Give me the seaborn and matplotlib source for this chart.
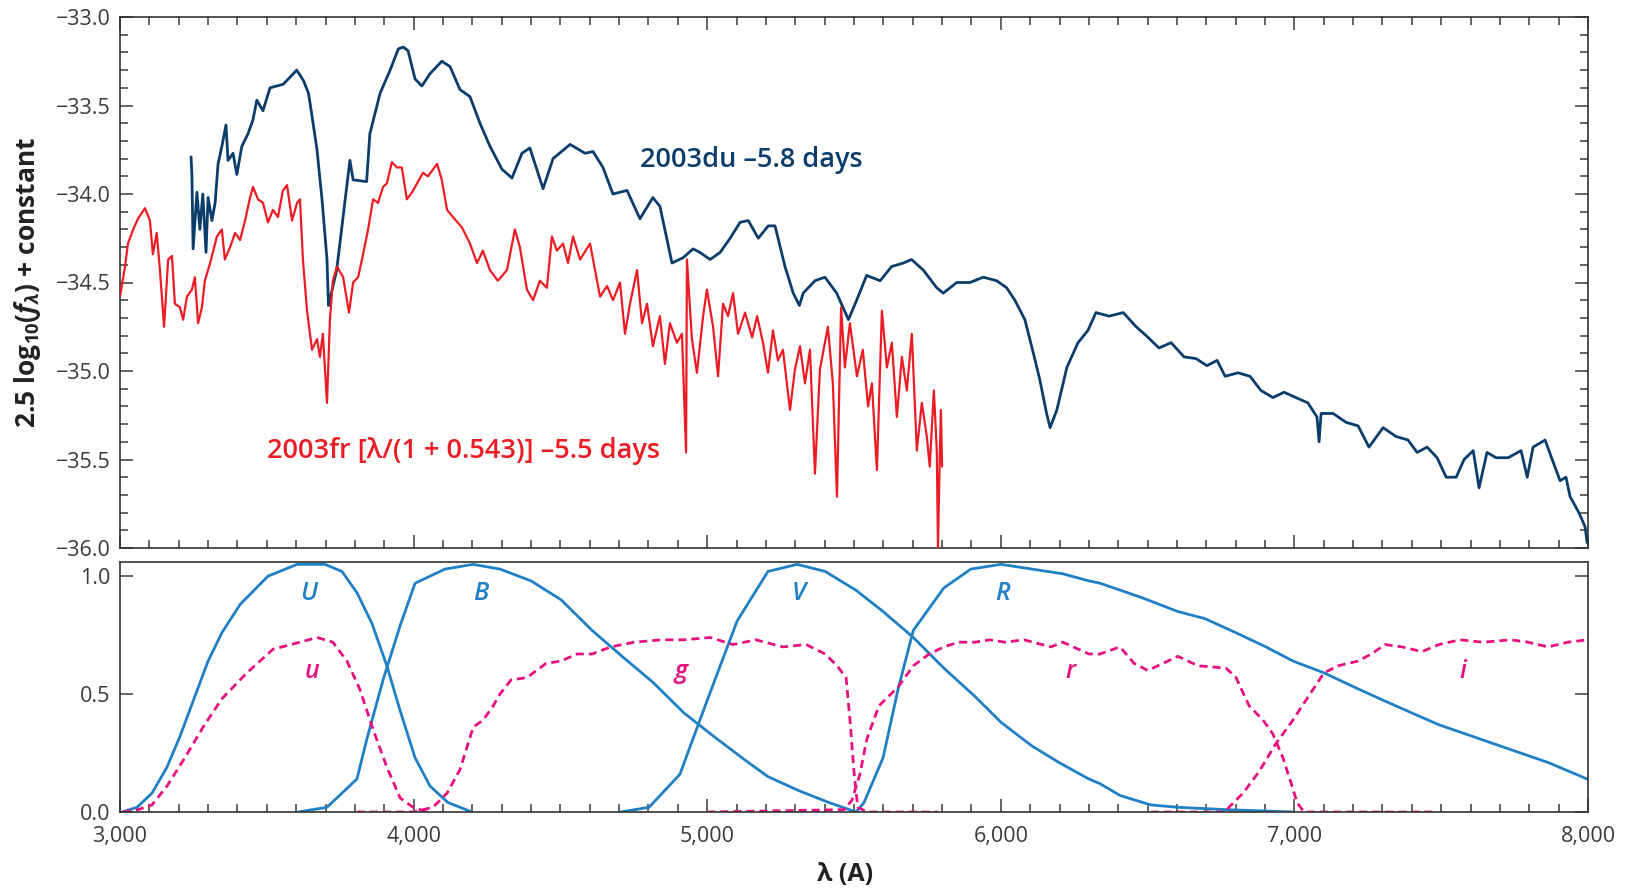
import numpy as np
import pandas as pd
import matplotlib
matplotlib.use("Agg")
import matplotlib.pyplot as plt
import seaborn as sns
from matplotlib.ticker import MultipleLocator, FixedLocator, FuncFormatter

# ---------------- data ----------------
du_wave = [3242, 3245, 3249, 3262, 3272, 3282, 3293, 3300, 3313, 3324, 3334, 3347, 3361, 3368, 3385,
           3398, 3415, 3436, 3453, 3466, 3487, 3511, 3556, 3602, 3625, 3642, 3654, 3671, 3688, 3705,
           3710, 3738, 3783, 3794, 3840, 3851, 3886, 3920, 3948, 3965, 3981, 4005, 4028, 4056, 4096,
           4124, 4158, 4192, 4226, 4260, 4301, 4335, 4369, 4396, 4441, 4475, 4533, 4584, 4611, 4645,
           4679, 4727, 4771, 4815, 4839, 4880, 4918, 4952, 4975, 5010, 5044, 5078, 5112, 5140, 5174,
           5208, 5231, 5265, 5293, 5314, 5327, 5367, 5401, 5441, 5481, 5509, 5543, 5589, 5628, 5668,
           5696, 5736, 5782, 5804, 5850, 5895, 5940, 5986, 6020, 6048, 6082, 6111, 6133, 6156, 6168,
           6191, 6225, 6263, 6297, 6324, 6369, 6417, 6461, 6495, 6539, 6580, 6624, 6665, 6702, 6737,
           6764, 6808, 6849, 6886, 6927, 6965, 7005, 7046, 7077, 7084, 7091, 7132, 7176, 7217, 7254,
           7302, 7346, 7387, 7418, 7452, 7486, 7517, 7551, 7578, 7609, 7629, 7656, 7687, 7728, 7772,
           7793, 7813, 7854, 7878, 7905, 7925, 7939, 7969, 7990, 7997]
du_mag = [-33.79, -33.90, -34.31, -33.99, -34.20, -34.00, -34.33, -34.02, -34.15, -34.05, -33.83, -33.73,
          -33.61, -33.81, -33.77, -33.89, -33.73, -33.66, -33.58, -33.47, -33.53, -33.40, -33.38, -33.30,
          -33.36, -33.43, -33.56, -33.75, -34.03, -34.37, -34.63, -34.43, -33.81, -33.92, -33.93, -33.66,
          -33.43, -33.30, -33.18, -33.17, -33.19, -33.35, -33.39, -33.32, -33.25, -33.28, -33.41, -33.45,
          -33.60, -33.73, -33.86, -33.91, -33.77, -33.74, -33.97, -33.80, -33.72, -33.77, -33.76, -33.85,
          -34.00, -33.98, -34.14, -34.02, -34.07, -34.39, -34.36, -34.31, -34.33, -34.37, -34.33, -34.25,
          -34.16, -34.15, -34.25, -34.18, -34.18, -34.41, -34.56, -34.63, -34.56, -34.49, -34.47, -34.56,
          -34.71, -34.60, -34.46, -34.49, -34.41, -34.39, -34.37, -34.43, -34.53, -34.56, -34.50, -34.50,
          -34.47, -34.49, -34.53, -34.60, -34.71, -34.90, -35.05, -35.24, -35.32, -35.22, -34.98, -34.84,
          -34.77, -34.67, -34.69, -34.67, -34.75, -34.80, -34.87, -34.84, -34.92, -34.93, -34.97, -34.94,
          -35.03, -35.01, -35.03, -35.11, -35.15, -35.12, -35.15, -35.18, -35.26, -35.40, -35.24, -35.24,
          -35.29, -35.31, -35.43, -35.32, -35.37, -35.39, -35.46, -35.43, -35.49, -35.60, -35.60, -35.50,
          -35.45, -35.66, -35.46, -35.49, -35.49, -35.45, -35.60, -35.43, -35.39, -35.50, -35.62, -35.60,
          -35.71, -35.80, -35.88, -35.97]

fr_wave = [3000, 3017, 3027, 3045, 3061, 3085, 3102, 3112, 3125, 3136, 3150, 3164, 3177, 3187, 3204,
           3215, 3228, 3245, 3255, 3266, 3279, 3289, 3307, 3330, 3347, 3357, 3375, 3392, 3409, 3426,
           3443, 3453, 3470, 3487, 3504, 3521, 3538, 3555, 3569, 3586, 3603, 3613, 3623, 3637, 3654,
           3671, 3681, 3691, 3705, 3715, 3725, 3739, 3760, 3780, 3794, 3811, 3828, 3845, 3862, 3879,
           3896, 3909, 3926, 3943, 3960, 3977, 3995, 4012, 4032, 4049, 4080, 4096, 4114, 4134, 4165,
           4192, 4216, 4236, 4260, 4287, 4318, 4345, 4362, 4386, 4407, 4430, 4454, 4471, 4488, 4509,
           4526, 4543, 4567, 4601, 4618, 4635, 4659, 4679, 4703, 4720, 4737, 4761, 4778, 4795, 4815,
           4839, 4856, 4873, 4897, 4914, 4928, 4931, 4948, 4965, 4986, 4999, 5020, 5037, 5054, 5071,
           5088, 5105, 5129, 5153, 5170, 5190, 5207, 5224, 5241, 5258, 5282, 5299, 5316, 5333, 5350,
           5367, 5384, 5411, 5428, 5442, 5456, 5469, 5486, 5510, 5530, 5548, 5561, 5578, 5595, 5612,
           5629, 5646, 5663, 5680, 5697, 5714, 5731, 5748, 5758, 5772, 5782, 5786, 5792, 5796, 5800]
fr_mag = [-34.58, -34.41, -34.28, -34.20, -34.14, -34.08, -34.15, -34.34, -34.22, -34.43, -34.75, -34.37,
          -34.35, -34.62, -34.64, -34.71, -34.58, -34.54, -34.47, -34.73, -34.64, -34.49, -34.39, -34.24,
          -34.20, -34.37, -34.30, -34.22, -34.26, -34.15, -34.02, -33.96, -34.03, -34.05, -34.16, -34.09,
          -34.13, -33.98, -33.95, -34.15, -34.05, -34.03, -34.37, -34.66, -34.88, -34.82, -34.92, -34.79,
          -35.18, -34.71, -34.49, -34.41, -34.47, -34.67, -34.50, -34.47, -34.34, -34.20, -34.03, -34.05,
          -33.96, -33.94, -33.82, -33.85, -33.85, -34.03, -33.99, -33.94, -33.88, -33.90, -33.83, -33.92,
          -34.09, -34.13, -34.19, -34.28, -34.39, -34.32, -34.43, -34.49, -34.43, -34.20, -34.30, -34.54,
          -34.60, -34.49, -34.53, -34.24, -34.32, -34.28, -34.39, -34.24, -34.37, -34.28, -34.43, -34.58,
          -34.52, -34.60, -34.50, -34.79, -34.62, -34.43, -34.73, -34.62, -34.86, -34.69, -34.96, -34.73,
          -34.84, -34.79, -35.46, -34.37, -34.82, -35.01, -34.69, -34.54, -34.75, -35.03, -34.62, -34.69,
          -34.56, -34.79, -34.67, -34.81, -34.69, -34.84, -35.01, -34.77, -34.94, -34.88, -35.22, -34.99,
          -34.86, -35.07, -34.88, -35.58, -34.99, -34.75, -35.07, -35.71, -34.64, -34.98, -34.73, -35.03,
          -34.88, -35.20, -35.07, -35.56, -34.66, -34.98, -34.84, -35.26, -34.92, -35.11, -34.79, -35.45,
          -35.18, -35.37, -35.54, -35.11, -35.45, -36.00, -35.49, -35.22, -35.54]

# Bessell UBVR (solid) transmission curves
U_wave = [3007, 3058, 3109, 3160, 3204, 3249, 3300, 3347, 3409, 3504, 3603, 3698, 3756, 3807, 3858,
          3909, 3954, 4005, 4056, 4117, 4199]
U_trans = [0, 0.02, 0.08, 0.19, 0.32, 0.47, 0.64, 0.76, 0.88, 1.00, 1.05, 1.05, 1.02, 0.93, 0.80,
           0.62, 0.43, 0.23, 0.11, 0.04, 0]
B_wave = [3607, 3705, 3807, 3841, 3896, 3954, 4005, 4107, 4203, 4294, 4400, 4502, 4608, 4710, 4815,
          4921, 5023, 5129, 5207, 5313, 5415, 5507]
B_trans = [0, 0.02, 0.14, 0.31, 0.56, 0.79, 0.97, 1.03, 1.05, 1.03, 0.98, 0.90, 0.77, 0.66, 0.55,
           0.42, 0.32, 0.22, 0.15, 0.09, 0.04, 0]
V_wave = [4706, 4802, 4907, 4999, 5102, 5207, 5306, 5402, 5507, 5599, 5702, 5806, 5912, 6001, 6106,
          6198, 6300, 6338, 6406, 6511, 6603, 6767, 6995]
V_trans = [0, 0.02, 0.16, 0.47, 0.81, 1.02, 1.05, 1.02, 0.94, 0.85, 0.74, 0.61, 0.49, 0.38, 0.28,
           0.21, 0.14, 0.12, 0.07, 0.03, 0.02, 0.01, 0]
R_wave = [5507, 5534, 5599, 5650, 5702, 5806, 5898, 6001, 6106, 6211, 6300, 6338, 6478, 6603, 6695,
          6801, 6903, 6995, 7101, 7203, 7309, 7400, 7492, 7608, 7724, 7864, 7997]
R_trans = [0, 0.04, 0.23, 0.52, 0.77, 0.95, 1.03, 1.05, 1.03, 1.01, 0.98, 0.97, 0.91, 0.85, 0.82,
           0.76, 0.70, 0.64, 0.59, 0.53, 0.47, 0.42, 0.37, 0.32, 0.27, 0.21, 0.14]

# SDSS ugri (dashed) transmission curves
u_wave = [3010, 3061, 3109, 3160, 3221, 3283, 3347, 3432, 3521, 3613, 3671, 3725, 3773, 3817, 3862,
          3909, 3954, 3998, 4046]
u_trans = [0, 0.01, 0.03, 0.11, 0.23, 0.36, 0.48, 0.59, 0.69, 0.72, 0.74, 0.72, 0.64, 0.52, 0.35,
           0.19, 0.06, 0.02, 0]
g_wave = [3807, 4000, 4066, 4114, 4158, 4203, 4237, 4271, 4294, 4332, 4386, 4451, 4502, 4557, 4608,
          4672, 4751, 4843, 4921, 5010, 5088, 5166, 5258, 5337, 5402, 5442, 5473, 5487, 5500, 5513,
          5544, 5786]
g_trans = [0, 0, 0.02, 0.08, 0.18, 0.36, 0.39, 0.45, 0.50, 0.56, 0.57, 0.63, 0.64, 0.67, 0.67,
           0.70, 0.72, 0.73, 0.73, 0.74, 0.71, 0.73, 0.70, 0.71, 0.67, 0.62, 0.57, 0.38, 0.17, 0.02,
           0, 0]
r_wave = [5000, 5466, 5493, 5520, 5544, 5585, 5650, 5702, 5756, 5806, 5857, 5912, 5963, 6014, 6079,
          6171, 6211, 6300, 6338, 6406, 6454, 6501, 6603, 6672, 6767, 6801, 6846, 6893, 6927, 6961,
          6992, 7009, 7033, 7483]
r_trans = [0, 0.01, 0.05, 0.16, 0.31, 0.45, 0.53, 0.62, 0.67, 0.70, 0.72, 0.72, 0.73, 0.72, 0.73,
           0.70, 0.72, 0.67, 0.67, 0.70, 0.63, 0.60, 0.66, 0.62, 0.61, 0.57, 0.45, 0.39, 0.33, 0.23,
           0.11, 0.04, 0, 0]
i_wave = [6511, 6767, 6777, 6825, 6879, 6937, 6995, 7053, 7101, 7149, 7217, 7262, 7309, 7367, 7435,
          7492, 7564, 7642, 7738, 7796, 7864, 7932, 7997]
i_trans = [0, 0, 0.02, 0.08, 0.17, 0.29, 0.39, 0.50, 0.59, 0.62, 0.64, 0.67, 0.71, 0.70, 0.68,
           0.71, 0.73, 0.72, 0.73, 0.72, 0.70, 0.72, 0.73]

solid_labels = ["U", "B", "V", "R"]
solid_label_x = [3644, 4229, 5312, 6005]
dashed_labels = ["u", "g", "r", "i"]
dashed_label_x = [3654, 4911, 6239, 7574]

x_ticks = [3000, 4000, 5000, 6000, 7000, 8000]

# ---------------- style ----------------
sns.set_theme(style="ticks")
plt.rcParams['font.family'] = ['Open Sans', 'DejaVu Sans']
plt.rcParams['mathtext.fontset'] = 'custom'
plt.rcParams['mathtext.rm'] = 'Open Sans:bold'
plt.rcParams['mathtext.it'] = 'Open Sans:bold:italic'
plt.rcParams['mathtext.bf'] = 'Open Sans:bold'
plt.rcParams['axes.unicode_minus'] = True

C_DU = '#0b3d6b'
C_FR = '#ec1c24'
C_BLUE = '#1f80c6'
C_MAG = '#e6107f'
C_AX = '#3a3a3a'

fig = plt.figure(figsize=(16.32, 8.89), dpi=100)
fig.patch.set_facecolor('white')
ax1 = fig.add_axes([120 / 1632, 1 - 548 / 889, 1468 / 1632, 531 / 889])
ax2 = fig.add_axes([120 / 1632, 1 - 812 / 889, 1468 / 1632, 250 / 889])

# ---------------- top panel: spectra ----------------
df_du = pd.DataFrame({"wave": du_wave, "mag": du_mag})
df_fr = pd.DataFrame({"wave": fr_wave, "mag": fr_mag})
sns.lineplot(data=df_du, x="wave", y="mag", ax=ax1, color=C_DU, lw=2.0,
             estimator=None, sort=False, zorder=2)
sns.lineplot(data=df_fr, x="wave", y="mag", ax=ax1, color=C_FR, lw=1.6,
             estimator=None, sort=False, zorder=3)

ax1.set_xlim(3000, 8000)
ax1.set_ylim(-36.0, -33.0)
ax1.xaxis.set_major_locator(MultipleLocator(1000))
ax1.xaxis.set_minor_locator(MultipleLocator(100))
ax1.yaxis.set_major_locator(MultipleLocator(0.5))
ax1.yaxis.set_minor_locator(MultipleLocator(0.1))
ax1.yaxis.set_major_formatter(FuncFormatter(lambda v, p: f"{v:.1f}".replace('-', '\u2212')))
ax1.tick_params(which='both', direction='in', top=True, right=True, bottom=True, left=True,
                labelbottom=False, colors=C_AX, labelsize=15.5, pad=7)
ax1.tick_params(which='major', length=9.5, width=1.1)
ax1.tick_params(which='minor', length=5.5, width=1.1)
ax1.set_xlabel("")
ax1.set_ylabel(r"2.5 log$_{10}$($f_{\lambda}$) + constant", fontsize=19, fontweight='bold',
               color='#222222', va='center')
ax1.yaxis.set_label_coords(-0.0627, 0.5)

ax1.text(4771, -33.85, "2003du \u20135.8 days", color=C_DU, fontsize=19.5,
         fontweight='semibold', ha='left', va='baseline')
ax1.text(3500, -35.49, "2003fr [\u03bb/(1 + 0.543)] \u20135.5 days", color=C_FR, fontsize=19.5,
         fontweight='semibold', ha='left', va='baseline')

# ---------------- bottom panel: filter curves ----------------
for w, t in [(U_wave, U_trans), (B_wave, B_trans), (V_wave, V_trans), (R_wave, R_trans)]:
    sns.lineplot(x=w, y=t, ax=ax2, color=C_BLUE, lw=2.0, estimator=None, sort=False)
for w, t in [(u_wave, u_trans), (g_wave, g_trans), (r_wave, r_trans), (i_wave, i_trans)]:
    sns.lineplot(x=w, y=t, ax=ax2, color=C_MAG, lw=2.0, estimator=None, sort=False,
                 linestyle=(0, (2.9, 1.8)))

for lab, x in zip(solid_labels, solid_label_x):
    ax2.text(x, 0.90, lab, color=C_BLUE, fontsize=18, fontstyle='italic',
             fontweight='semibold', ha='center', va='baseline')
for lab, x in zip(dashed_labels, dashed_label_x):
    ax2.text(x, 0.57, lab, color=C_MAG, fontsize=18, fontstyle='italic',
             fontweight='semibold', ha='center', va='baseline')

ax2.set_xlim(3000, 8000)
ax2.set_ylim(0, 1.06)
ax2.xaxis.set_major_locator(FixedLocator(x_ticks))
ax2.xaxis.set_minor_locator(MultipleLocator(100))
ax2.xaxis.set_major_formatter(FuncFormatter(lambda v, p: f"{int(v):,}"))
ax2.yaxis.set_major_locator(FixedLocator([0.0, 0.5, 1.0]))
ax2.yaxis.set_major_formatter(FuncFormatter(lambda v, p: f"{v:.1f}"))
ax2.tick_params(which='both', direction='in', top=False, right=True, bottom=True, left=True,
                colors=C_AX, labelsize=15.5)
ax2.tick_params(axis='x', which='major', length=9.5, width=1.1, pad=10)
ax2.tick_params(axis='x', which='minor', length=5.5, width=1.1)
ax2.tick_params(axis='y', which='major', length=9.5, width=1.1, pad=7)
ax2.set_ylabel("")
ax2.set_xlabel("\u03bb (A)", fontsize=18, fontweight='bold', color='#222222', va='center')
ax2.xaxis.set_label_coords(0.494, -0.25)

for ax in (ax1, ax2):
    for s in ax.spines.values():
        s.set_color('#333333')
        s.set_linewidth(1.2)
    ax.set_facecolor('white')
    if ax.get_legend() is not None:
        ax.get_legend().remove()

fig.savefig("out.png", dpi=100, facecolor='white')
